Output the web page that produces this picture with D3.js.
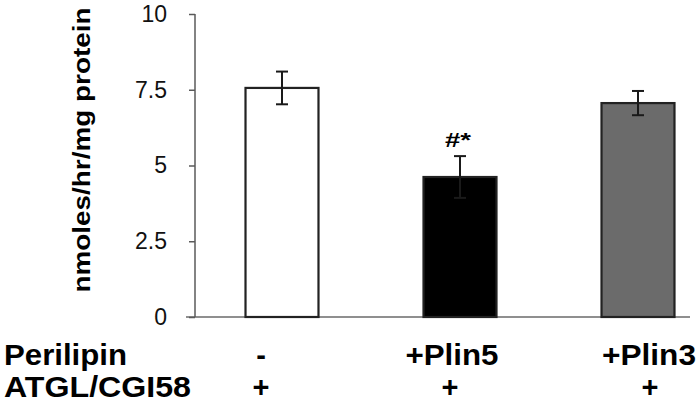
<!DOCTYPE html>
<html><head><meta charset="utf-8">
<script src="https://d3js.org/d3.v7.min.js"></script>
<style>body{margin:0;background:#fff}svg{display:block}</style>
</head><body>
<script>
const categories = ["-", "+Plin5", "+Plin3"];
const values = [7.56, 4.62, 7.06];
const errors = [0.54, 0.69, 0.40];
const fills = ["#ffffff", "#000000", "#6b6b6b"];
const yTicks = [0, 2.5, 5, 7.5, 10];
const perilipinLabels = ["-", "+Plin5", "+Plin3"];
const atglLabels = ["+", "+", "+"];
const significance = ["", "#*", ""];

const W = 697, H = 407;
const svg = d3.select("body").append("svg").attr("width", W).attr("height", H);
const font = "Liberation Sans, Arial, sans-serif";

const y = d3.scaleLinear().domain([0, 10]).range([317, 14]);
const x = d3.scaleBand().domain(categories).range([193, 727]).paddingInner(0.59).paddingOuter(0.295);

// x axis line
svg.append("line").attr("x1", 186).attr("x2", 690).attr("y1", y(0)).attr("y2", y(0))
  .attr("stroke", "#6a6a6a").attr("stroke-width", 1.5);

// y axis
const yAxis = svg.append("g").attr("transform", "translate(195,0)")
  .call(d3.axisLeft(y).tickValues(yTicks).tickSize(6).tickPadding(22)
    .tickFormat(d => d === 2.5 ? "2.5" : d === 7.5 ? "7.5" : String(d)));
yAxis.select(".domain").attr("stroke", "#5a5a5a").attr("stroke-width", 1.5)
  .attr("d", `M0,${y(10)}V${y(0)}`);
yAxis.selectAll(".tick line").attr("stroke", "#5a5a5a").attr("stroke-width", 1.5);
yAxis.selectAll(".tick text").attr("font-family", font)
  .attr("font-size", 23).attr("fill", "#111");

// y label
svg.append("text").attr("transform", "translate(90,150) rotate(-90)")
  .attr("text-anchor", "middle").attr("font-family", font)
  .attr("font-weight", "bold").attr("font-size", 24)
  .attr("textLength", 285).attr("lengthAdjust", "spacingAndGlyphs")
  .text("nmoles/hr/mg protein");

// bars
svg.selectAll("rect.bar").data(categories).enter().append("rect")
  .attr("class", "bar")
  .attr("x", d => x(d)).attr("width", x.bandwidth())
  .attr("y", (d, i) => y(values[i])).attr("height", (d, i) => y(0) - y(values[i]))
  .attr("fill", (d, i) => fills[i]).attr("stroke", "#222").attr("stroke-width", 2.2);

// error bars
const eb = svg.selectAll("g.err").data(categories).enter().append("g").attr("class", "err");
const cx = d => x(d) + x.bandwidth() / 2;
eb.append("line").attr("x1", cx).attr("x2", cx)
  .attr("y1", (d, i) => y(values[i] + errors[i])).attr("y2", (d, i) => y(values[i] - errors[i]))
  .attr("stroke", "#1a1a1a").attr("stroke-width", 2);
eb.append("line").attr("x1", d => cx(d) - 6).attr("x2", d => cx(d) + 6)
  .attr("y1", (d, i) => y(values[i] + errors[i])).attr("y2", (d, i) => y(values[i] + errors[i]))
  .attr("stroke", "#1a1a1a").attr("stroke-width", 2);
eb.append("line").attr("x1", d => cx(d) - 6).attr("x2", d => cx(d) + 6)
  .attr("y1", (d, i) => y(values[i] - errors[i])).attr("y2", (d, i) => y(values[i] - errors[i]))
  .attr("stroke", "#1a1a1a").attr("stroke-width", 2);

// significance
svg.selectAll("text.sig").data(categories).enter().append("text").attr("class", "sig")
  .attr("x", d => cx(d) - 2).attr("y", (d, i) => y(values[i] + errors[i]) - 9)
  .attr("text-anchor", "middle").attr("font-family", font)
  .attr("font-weight", "bold").attr("font-size", 21)
  .attr("textLength", (d, i) => significance[i] ? 26 : null)
  .attr("lengthAdjust", "spacingAndGlyphs")
  .text((d, i) => significance[i]);

// bottom labels
function lbl(t, xx, yy, anchor, len) {
  const s = svg.append("text").attr("x", xx).attr("y", yy).attr("text-anchor", anchor)
    .attr("font-family", font).attr("font-weight", "bold").attr("font-size", 29).text(t);
  if (len) s.attr("textLength", len).attr("lengthAdjust", "spacingAndGlyphs");
  return s;
}
lbl("Perilipin", 4, 365, "start", 123);
lbl("ATGL/CGI58", 4, 397, "start", 187);
const pPos = [261, 452, 649];
const aPos = [261, 450, 650];
const pLen = [null, 93, 94];
perilipinLabels.forEach((t, i) => lbl(t, pPos[i], 365, "middle", pLen[i]));
atglLabels.forEach((t, i) => lbl(t, aPos[i], 397, "middle", null));
</script>
</body></html>
